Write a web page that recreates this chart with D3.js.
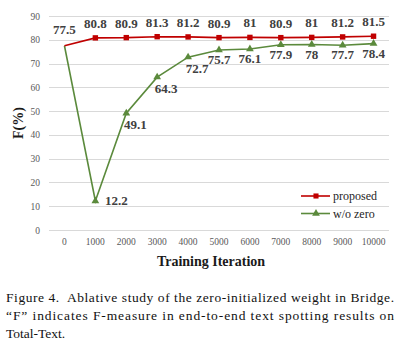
<!DOCTYPE html>
<html lang="en">
<head>
<meta charset="utf-8">
<script src="https://d3js.org/d3.v7.min.js"></script>
<style>
  body { margin: 0; background: #fff; }
  svg { display: block; }
</style>
</head>
<body>
<script>
  // data
  var iterations = ["0", "1000", "2000", "3000", "4000", "5000", "6000", "7000", "8000", "9000", "10000"];
  var proposed = [77.5, 80.8, 80.9, 81.3, 81.2, 80.9, 81, 80.9, 81, 81.2, 81.5];
  var woZero = [77.5, 12.2, 49.1, 64.3, 72.7, 75.7, 76.1, 77.9, 78, 77.7, 78.4];
  var yTicks = [0, 10, 20, 30, 40, 50, 60, 70, 80, 90];
  // where the w/o zero labels sit relative to their point
  var woZeroLabelPos = ["none", "right", "rightBelow", "rightBelow", "rightBelow", "below", "below", "below", "below", "below", "below"];

  var W = 415, H = 361;
  var mLeft = 49, mRight = 389, mTop = 16, mBottom = 230;
  var red = "#c00000", green = "#5b8a3c";

  var svg = d3.select("body").append("svg")
    .attr("width", W).attr("height", H);

  var x = d3.scaleBand().domain(iterations).range([mLeft, mRight]);
  var y = d3.scaleLinear().domain([0, 90]).range([mBottom, mTop]);
  var cx = function (i) { return x(iterations[i]) + x.bandwidth() / 2; };

  var pts = function (arr) { return arr.map(function (v, i) { return { v: v, i: i }; }); };

  // grid
  svg.append("g").selectAll("line")
    .data(yTicks).enter().append("line")
    .attr("x1", mLeft).attr("x2", mRight)
    .attr("y1", function (d) { return Math.round(y(d)) + 0.5; })
    .attr("y2", function (d) { return Math.round(y(d)) + 0.5; })
    .attr("stroke", "#d9d9d9").attr("stroke-width", 1);

  // y axis labels
  var yAxis = d3.axisLeft(y).tickValues(yTicks).tickSize(0).tickPadding(9);
  svg.append("g")
    .attr("transform", "translate(" + mLeft + ",0)")
    .call(yAxis)
    .call(function (g) { g.select(".domain").remove(); })
    .selectAll("text")
    .attr("fill", "#595959")
    .style("font-family", "Liberation Serif")
    .style("font-size", "9.5px");

  // x axis labels
  var xAxis = d3.axisBottom(x).tickSize(0).tickPadding(8);
  svg.append("g")
    .attr("transform", "translate(0," + mBottom + ")")
    .call(xAxis)
    .call(function (g) { g.select(".domain").remove(); })
    .selectAll("text")
    .attr("fill", "#595959")
    .style("font-family", "Liberation Serif")
    .style("font-size", "9.5px");

  // axis titles
  svg.append("text")
    .attr("x", 211).attr("y", 266)
    .attr("text-anchor", "middle")
    .style("font-family", "Liberation Serif")
    .style("font-weight", "bold")
    .style("font-size", "14px")
    .attr("fill", "#1a1a1a")
    .text("Training Iteration");

  svg.append("text")
    .attr("transform", "translate(23," + (mTop + mBottom) / 2 + ") rotate(-90)")
    .attr("text-anchor", "middle")
    .style("font-family", "Liberation Serif")
    .style("font-weight", "bold")
    .style("font-size", "14px")
    .attr("fill", "#1a1a1a")
    .text("F(%)");

  var line = d3.line()
    .x(function (d) { return cx(d.i); })
    .y(function (d) { return y(d.v); });

  // w/o zero series
  svg.append("path").datum(pts(woZero))
    .attr("fill", "none").attr("stroke", green).attr("stroke-width", 1.6)
    .attr("d", line);
  var tri = d3.symbol().type(d3.symbolTriangle).size(26);
  svg.append("g").selectAll("path")
    .data(pts(woZero).slice(1)).enter().append("path")
    .attr("d", tri)
    .attr("transform", function (d) { return "translate(" + cx(d.i) + "," + y(d.v) + ")"; })
    .attr("fill", green);

  // proposed series
  svg.append("path").datum(pts(proposed))
    .attr("fill", "none").attr("stroke", red).attr("stroke-width", 1.6)
    .attr("d", line);
  svg.append("g").selectAll("rect")
    .data(pts(proposed).slice(1)).enter().append("rect")
    .attr("x", function (d) { return cx(d.i) - 2.7; })
    .attr("y", function (d) { return y(d.v) - 2.7; })
    .attr("width", 5.4).attr("height", 5.4)
    .attr("fill", red);

  var labelStyle = function (sel) {
    sel.attr("text-anchor", "middle")
      .style("font-family", "Liberation Serif")
      .style("font-weight", "bold")
      .style("font-size", "13px")
      .attr("fill", "#404040");
  };

  // proposed labels above
  svg.append("g").selectAll("text")
    .data(pts(proposed)).enter().append("text")
    .attr("x", function (d) { return cx(d.i); })
    .attr("y", function (d) { return y(d.v) - (d.i === 0 ? 12 : 10); })
    .call(labelStyle)
    .text(function (d) { return d.v; });

  // w/o zero labels
  svg.append("g").selectAll("text")
    .data(pts(woZero).filter(function (d) { return woZeroLabelPos[d.i] !== "none"; }))
    .enter().append("text")
    .attr("x", function (d) {
      var pos = woZeroLabelPos[d.i];
      return cx(d.i) + (pos === "right" ? 21 : pos === "rightBelow" ? 9 : 0);
    })
    .attr("y", function (d) {
      var pos = woZeroLabelPos[d.i];
      return y(d.v) + (pos === "right" ? 4 : pos === "rightBelow" ? 16 : 14);
    })
    .call(labelStyle)
    .text(function (d) { return d.v; });

  // legend
  var legend = [{ name: "proposed", color: red, mark: "square" }, { name: "w/o zero", color: green, mark: "tri" }];
  var lg = svg.append("g").selectAll("g")
    .data(legend).enter().append("g")
    .attr("transform", function (d, i) { return "translate(301," + (196 + i * 17.5) + ")"; });
  lg.append("line").attr("x1", 0).attr("x2", 29)
    .attr("stroke", function (d) { return d.color; }).attr("stroke-width", 1.6);
  lg.append("path")
    .attr("d", function (d) {
      return d.mark === "square" ? d3.symbol().type(d3.symbolSquare).size(26)() : tri();
    })
    .attr("transform", "translate(15,0)")
    .attr("fill", function (d) { return d.color; });
  lg.append("text")
    .attr("x", 32).attr("y", 4)
    .style("font-family", "Liberation Serif")
    .style("font-size", "12px")
    .attr("fill", "#262626")
    .text(function (d) { return d.name; });

  // caption
  var caption = [
    { text: "Figure 4.  Ablative study of the zero-initialized weight in Bridge.", justify: true },
    { text: "\u201CF\u201D indicates F-measure in end-to-end text spotting results on", justify: true },
    { text: "Total-Text.", justify: false }
  ];
  svg.append("g").selectAll("text")
    .data(caption).enter().append("text")
    .attr("x", 6)
    .attr("y", function (d, i) { return 302 + i * 18; })
    .attr("textLength", function (d) { return d.justify ? 388 : null; })
    .attr("lengthAdjust", "spacing")
    .style("font-family", "Liberation Serif")
    .style("font-size", "13.5px")
    .style("white-space", "pre")
    .attr("fill", "#111")
    .text(function (d) { return d.text; });
</script>
</body>
</html>
